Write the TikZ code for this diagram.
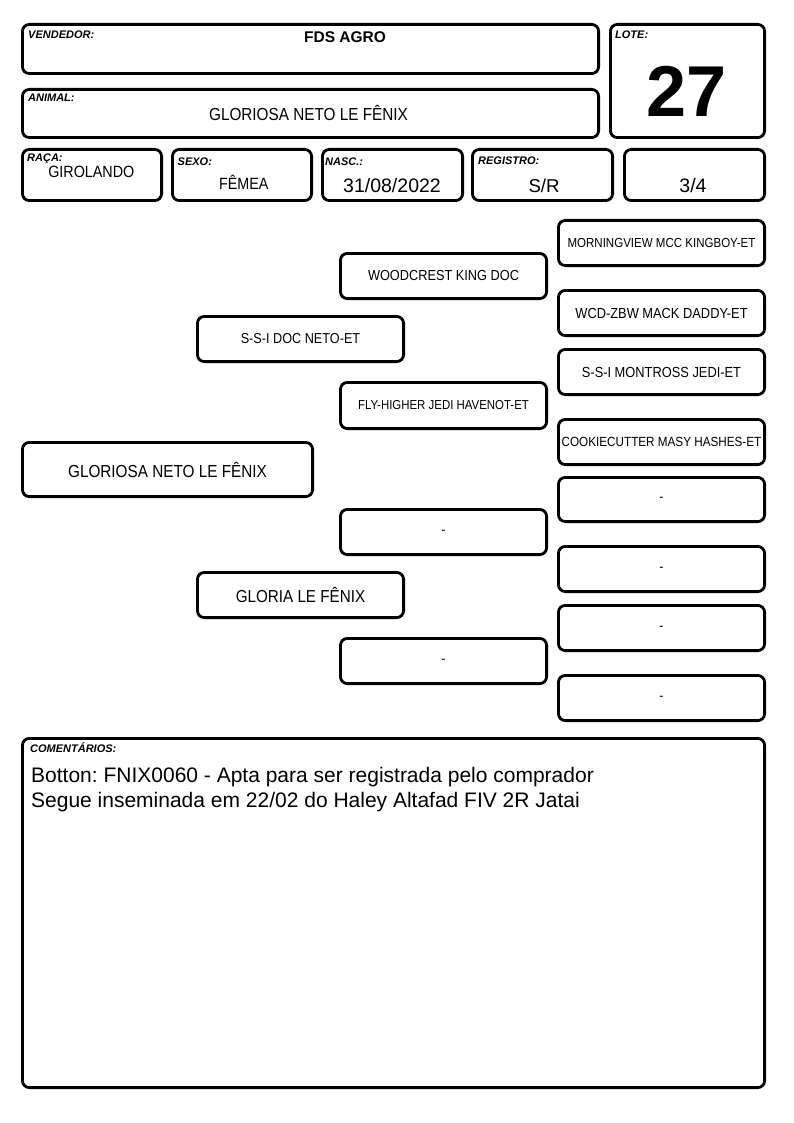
\documentclass[tikz,border=0pt]{standalone}
\usepackage{fontspec}
\setmainfont{Liberation Sans}
\newfontfamily\cnd[FakeStretch=0.88]{Liberation Sans}
\newcommand\fs[1]{\fontsize{#1}{#1}\selectfont}
\frenchspacing
\tikzset{
  box/.style={draw=black, line width=2.8pt, rounded corners=7pt, inner sep=0pt, fill=white},
  lbl/.style={anchor=base west, inner sep=0pt, font=\fs{11}\bfseries\itshape},
  val/.style={anchor=base, inner sep=0pt},
  ped/.style={font=\cnd\fs{#1}}
}
% name, x1, y1, x2, y2 (outer edges), text, font size
\newcommand\pbox[7]{\node[box, ped=#7, minimum width={(#4-#2-2.8)*1pt}, minimum height={(#5-#3-2.8)*1pt}] (#1) at ({(#2+#4)/2},{(#3+#5)/2}) {#6};}
\begin{document}
\begin{tikzpicture}[x=1pt,y=-1pt]
\useasboundingbox (0,0) rectangle (794,1123);
% header boxes
\pbox{vend}{21}{23}{600}{75}{}{11}
\pbox{anim}{21}{88}{600}{139}{}{11}
\pbox{lote}{609}{23}{766}{139}{}{11}
\pbox{raca}{21}{148}{163}{202}{}{11}
\pbox{sexo}{171}{148}{313}{202}{}{11}
\pbox{nasc}{321}{148}{464}{202}{}{11}
\pbox{regi}{471}{148}{614}{202}{}{11}
\pbox{grau}{623}{148}{766}{202}{}{11}
% labels
\node[lbl] (lvend) at (28,39) {VENDEDOR:};
\node[lbl] (lanim) at (28,102) {ANIMAL:};
\node[lbl] (llote) at (615,39) {LOTE:};
\node[lbl] (lraca) at (27,162) {RAÇA:};
\node[lbl] (lsexo) at (177.5,165.5) {SEXO:};
\node[lbl] (lnasc) at (325,165.5) {NASC.:};
\node[lbl] (lregi) at (478,165) {REGISTRO:};
% values
\node[val, font=\fs{15.5}\bfseries] (vvend) at (345,43) {FDS AGRO};
\node[val, font=\cnd\fs{17.4}] (vanim) at (308.5,121) {GLORIOSA NETO LE FÊNIX};
\node[val, font=\fs{72}\bfseries] (vlote) at (687,117) {27};
\node[val, font=\cnd\fs{16.3}] (vraca) at (91.3,178) {GIROLANDO};
\node[val, font=\cnd\fs{16.3}] (vsexo) at (243.8,190) {FÊMEA};
\node[val, font=\fs{19.5}] (vnasc) at (392,193) {31/08/2022};
\node[val, font=\fs{18.6}] (vregi) at (544,193) {S/R};
\node[val, font=\fs{19.5}] (vgrau) at (693,193) {3/4};
% pedigree
\pbox{p0}{21}{441}{314}{498}{GLORIOSA NETO LE FÊNIX}{17.4}
\pbox{s}{196}{315}{405}{363}{S-S-I DOC NETO-ET}{14.4}
\pbox{d}{196}{571}{405}{619}{GLORIA LE FÊNIX}{17.3}
\pbox{ss}{339}{252}{548}{300}{WOODCREST KING DOC}{14.5}
\pbox{sd}{339}{381}{548}{430}{FLY-HIGHER JEDI HAVENOT-ET}{13}
\pbox{ds}{339}{508}{548}{556}{-}{14}
\pbox{dd}{339}{637}{548}{685}{-}{14}
\pbox{sss}{557}{219}{766}{267}{MORNINGVIEW MCC KINGBOY-ET}{13.1}
\pbox{ssd}{557}{289}{766}{337}{WCD-ZBW MACK DADDY-ET}{14.6}
\pbox{sds}{557}{348}{766}{396}{S-S-I MONTROSS JEDI-ET}{14.6}
\pbox{sdd}{557}{418}{766}{466}{COOKIECUTTER MASY HASHES-ET}{13.3}
\pbox{dss}{557}{476}{766}{523}{-}{14}
\pbox{dsd}{557}{545}{766}{593}{-}{14}
\pbox{dds}{557}{604}{766}{652}{-}{14}
\pbox{ddd}{557}{674}{766}{722}{-}{14}
% comments
\pbox{com}{21}{737}{766}{1089}{}{11}
\node[lbl] (lcom) at (30,752) {COMENTÁRIOS:};
\node[anchor=base west, inner sep=0pt, font=\fs{21}] (cm1) at (31,782) {Botton: FNIX0060 - Apta para ser registrada pelo comprador};
\node[anchor=base west, inner sep=0pt, font=\fs{21}] (cm2) at (31,807) {Segue inseminada em 22/02 do Haley Altafad FIV 2R Jatai};
\end{tikzpicture}
\end{document}
